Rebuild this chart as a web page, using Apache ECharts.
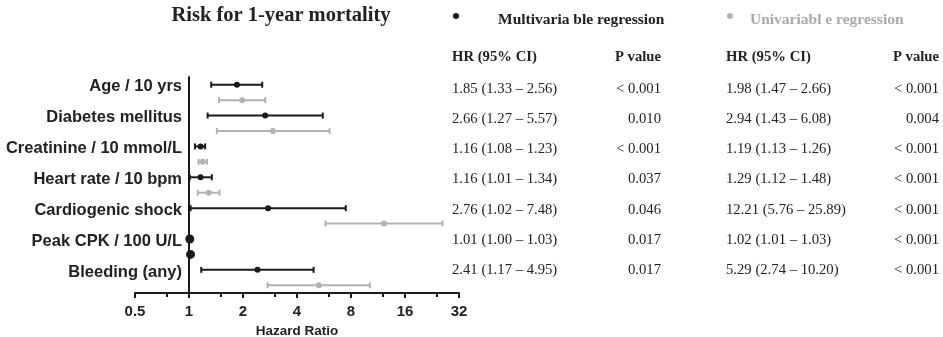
<!DOCTYPE html>
<html>
<head>
<meta charset="utf-8">
<title>Risk for 1-year mortality</title>
<script src="https://cdn.jsdelivr.net/npm/echarts@6/dist/echarts.min.js"></script>
<style>
  html, body { margin: 0; padding: 0; background: #fff; }
  #chart { width: 943px; height: 337px; }
</style>
</head>
<body>
<div id="chart"></div>
<script>
// hazard ratios
const categories = ['Age / 10 yrs', 'Diabetes mellitus', 'Creatinine / 10 mmol/L', 'Heart rate / 10 bpm', 'Cardiogenic shock', 'Peak CPK / 100 U/L', 'Bleeding (any)']
const multiHR = [1.85, 2.66, 1.16, 1.16, 2.76, 1.01, 2.41]
const multiLow = [1.33, 1.27, 1.08, 1.01, 1.02, 1.00, 1.17]
const multiHigh = [2.56, 5.57, 1.23, 1.34, 7.48, 1.03, 4.95]
const multiP = ['< 0.001', '0.010', '< 0.001', '0.037', '0.046', '0.017', '0.017']
const uniHR = [1.98, 2.94, 1.19, 1.29, 12.21, 1.02, 5.29]
const uniLow = [1.47, 1.43, 1.13, 1.12, 5.76, 1.01, 2.74]
const uniHigh = [2.66, 6.08, 1.26, 1.48, 25.89, 1.03, 10.20]
const uniP = ['< 0.001', '0.004', '< 0.001', '< 0.001', '< 0.001', '< 0.001', '< 0.001']
const tickLabels = [0.5, 1, 2, 4, 8, 16, 32]
const minorTicks = [0.75, 1.5, 3, 6, 12, 24]

const BLACK = '#1a1a1a'
const GRAY = '#b3b3b3'
const SERIF = "'Liberation Serif', 'Times New Roman', serif"
const SANS = "'Liberation Sans', Arial, sans-serif"

const chart = echarts.init(document.getElementById('chart'))

// x is plotted as log2(HR) so the axis is even per doubling
const toData = (hr, lo, hi) => hr.map((v, i) => [Math.log2(lo[i]), Math.log2(hi[i]), Math.log2(v), i])

const fmtCI = (hr, lo, hi) => hr.map((v, i) => `${v.toFixed(2)} (${lo[i].toFixed(2)} – ${hi[i].toFixed(2)})`)

const renderBar = (color, shift) => (params, api) => {
  const cat = api.value(3)
  const a = api.coord([api.value(0), cat])
  const b = api.coord([api.value(1), cat])
  const m = api.coord([api.value(2), cat])
  const y = a[1] + api.size([0, 1])[1] * shift
  // interval too narrow to draw: the figure shows a big black dot
  if (b[0] - a[0] < 4) {
    return { type: 'circle', shape: { cx: m[0], cy: y, r: 4.5 }, style: { fill: BLACK } }
  }
  const stroke = { stroke: color, lineWidth: 2 }
  return {
    type: 'group',
    children: [
      { type: 'line', shape: { x1: a[0], y1: y, x2: b[0], y2: y }, style: stroke },
      { type: 'line', shape: { x1: a[0], y1: y - 3, x2: a[0], y2: y + 3 }, style: stroke },
      { type: 'line', shape: { x1: b[0], y1: y - 3, x2: b[0], y2: y + 3 }, style: stroke },
      { type: 'circle', shape: { cx: m[0], cy: y, r: 3 }, style: { fill: color } }
    ]
  }
}

const rowY = (i) => 89 + i * 30.2
const tableText = (texts, x, align) => texts.map((t, i) => ({
  type: 'text',
  x: x,
  y: rowY(i),
  style: { text: t, font: `14.7px ${SERIF}`, fill: '#222', align: align, verticalAlign: 'middle' }
}))
const header = (t, x, align) => ({
  type: 'text', x: x, y: 57,
  style: { text: t, font: `bold 14.7px ${SERIF}`, fill: '#222', align: align, verticalAlign: 'middle' }
})

const logTicks = tickLabels.map(Math.log2)

const option = {
  animation: false,
  grid: { left: 135, right: 484, top: 77, bottom: 44, outerBoundsMode: 'none' },
  xAxis: [
    {
      type: 'value',
      min: -1,
      max: 5,
      interval: 1,
      name: 'Hazard Ratio',
      nameLocation: 'middle',
      nameGap: 28,
      nameTextStyle: { color: '#222', fontFamily: SANS, fontWeight: 'bold', fontSize: 13.5 },
      axisLine: { show: true, onZero: false, lineStyle: { color: BLACK, width: 2 } },
      axisTick: { show: true, length: 5, lineStyle: { color: BLACK, width: 2 }, customValues: logTicks },
      axisLabel: {
        customValues: logTicks,
        margin: 11,
        color: '#222',
        fontFamily: SANS,
        fontWeight: 'bold',
        fontSize: 15,
        formatter: (v) => String(tickLabels.find((t) => Math.abs(Math.log2(t) - v) < 1e-6))
      },
      splitLine: { show: false }
    },
    {
      type: 'value',
      position: 'bottom',
      min: -1,
      max: 5,
      interval: 1,
      axisLine: { show: false, onZero: false },
      axisTick: { show: true, length: 4, lineStyle: { color: BLACK, width: 2 }, customValues: minorTicks.map(Math.log2) },
      axisLabel: { show: false },
      splitLine: { show: false }
    }
  ],
  yAxis: {
    type: 'category',
    data: categories,
    inverse: true,
    // move the axis from the grid edge to HR = 1
    offset: -54,
    axisLine: { show: true, onZero: false, lineStyle: { color: BLACK, width: 2 } },
    axisTick: { show: false },
    axisLabel: {
      margin: 7,
      color: '#222',
      fontFamily: SANS,
      fontWeight: 'bold',
      fontSize: 16.5,
      lineHeight: 11,
      verticalAlign: 'bottom'
    },
    splitLine: { show: false }
  },
  series: [
    {
      name: 'Multivariable regression',
      type: 'custom',
      xAxisIndex: 0,
      renderItem: renderBar(BLACK, -0.25),
      encode: { x: [0, 1, 2], y: 3 },
      data: toData(multiHR, multiLow, multiHigh)
    },
    {
      name: 'Univariable regression',
      type: 'custom',
      xAxisIndex: 0,
      renderItem: renderBar(GRAY, 0.25),
      encode: { x: [0, 1, 2], y: 3 },
      data: toData(uniHR, uniLow, uniHigh)
    }
  ],
  graphic: [
    {
      type: 'text', x: 281, y: 16,
      style: { text: 'Risk for 1-year mortality', font: `bold 20.5px ${SERIF}`, fill: '#222', align: 'center', verticalAlign: 'middle' }
    },
    { type: 'circle', shape: { cx: 456, cy: 16, r: 3 }, style: { fill: BLACK } },
    {
      type: 'text', x: 498, y: 20,
      style: { text: 'Multivaria ble regression', font: `bold 15.5px ${SERIF}`, fill: '#222', verticalAlign: 'middle' }
    },
    { type: 'circle', shape: { cx: 730, cy: 16, r: 3 }, style: { fill: GRAY } },
    {
      type: 'text', x: 750, y: 20,
      style: { text: 'Univariabl e regression', font: `bold 15.5px ${SERIF}`, fill: '#aaa', verticalAlign: 'middle' }
    },
    header('HR (95% CI)', 452, 'left'),
    header('P value', 661, 'right'),
    header('HR (95% CI)', 726, 'left'),
    header('P value', 939, 'right'),
    ...tableText(fmtCI(multiHR, multiLow, multiHigh), 452, 'left'),
    ...tableText(multiP, 661, 'right'),
    ...tableText(fmtCI(uniHR, uniLow, uniHigh), 726, 'left'),
    ...tableText(uniP, 939, 'right')
  ]
}

chart.setOption(option)
window.addEventListener('resize', () => chart.resize())
</script>
</body>
</html>
